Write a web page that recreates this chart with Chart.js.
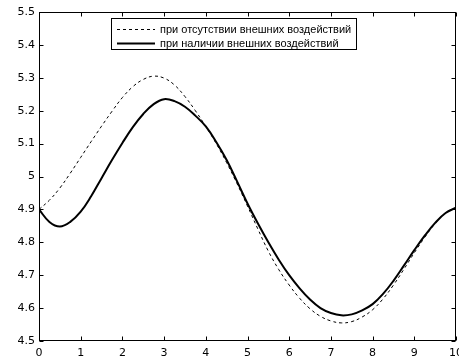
<!DOCTYPE html>
<html><head><meta charset="utf-8">
<script src="https://cdn.jsdelivr.net/npm/chart.js@4/dist/chart.umd.min.js"></script>
<style>html,body{margin:0;padding:0;background:#fff}</style>
</head><body>
<canvas id="c" width="459" height="362"></canvas>
<script>
const xValues = [0,0.25,0.5,0.75,1,1.25,1.5,1.75,2,2.25,2.5,2.75,3,3.25,3.5,3.75,4,4.25,4.5,4.75,5,5.25,5.5,5.75,6,6.25,6.5,6.75,7,7.25,7.5,7.75,8,8.25,8.5,8.75,9,9.25,9.5,9.75,10];
const seriesWithout = [4.900,4.928,4.965,5.010,5.058,5.106,5.153,5.198,5.240,5.273,5.295,5.305,5.299,5.278,5.243,5.200,5.152,5.100,5.042,4.978,4.910,4.840,4.773,4.717,4.670,4.630,4.598,4.575,4.561,4.555,4.559,4.573,4.595,4.628,4.670,4.718,4.768,4.815,4.857,4.890,4.905];
const seriesWith = [4.900,4.862,4.848,4.862,4.893,4.940,4.995,5.050,5.102,5.150,5.190,5.220,5.235,5.229,5.212,5.185,5.152,5.105,5.050,4.985,4.918,4.857,4.800,4.747,4.700,4.660,4.626,4.600,4.585,4.578,4.581,4.593,4.612,4.643,4.683,4.729,4.776,4.820,4.859,4.889,4.905];
const xTicks = [0,1,2,3,4,5,6,7,8,9,10];
const yTicks = [4.5,4.6,4.7,4.8,4.9,5,5.1,5.2,5.3,5.4,5.5];
const legendLabels = ['при отсутствии внешних воздействий','при наличии внешних воздействий'];

const tickFont = {family:'DejaVu Sans', size:11};

const boxPlugin = {
  id:'box',
  afterDraw(chart){
    const ctx = chart.ctx, a = chart.chartArea;
    const xs = chart.scales.x, ys = chart.scales.y;
    ctx.save();
    ctx.strokeStyle = '#000'; ctx.lineWidth = 1;
    const L = Math.round(a.left)+0.5, R = Math.round(a.right)-0.5, T = Math.round(a.top)+0.5, B = Math.round(a.bottom)-0.5;
    ctx.strokeRect(L, T, R-L, B-T);
    ctx.beginPath();
    xTicks.forEach(v=>{const p=Math.round(xs.getPixelForValue(v))+0.5; ctx.moveTo(p,B); ctx.lineTo(p,B-4); ctx.moveTo(p,T); ctx.lineTo(p,T+4);});
    yTicks.forEach(v=>{const p=Math.round(ys.getPixelForValue(v))+0.5; ctx.moveTo(L,p); ctx.lineTo(L+4,p); ctx.moveTo(R,p); ctx.lineTo(R-4,p);});
    ctx.stroke();
    // legend
    const lx=111.5, ly=18.5, lw=245, lh=31;
    ctx.fillStyle='#fff'; ctx.fillRect(lx,ly,lw,lh);
    ctx.strokeRect(lx,ly,lw,lh);
    const ds = chart.data.datasets;
    const rows=[29.5,43.5];
    ctx.font='11px "Liberation Sans"'; ctx.textBaseline='middle'; ctx.fillStyle='#000';
    ds.forEach((d,i)=>{
      ctx.beginPath();
      ctx.setLineDash(d.borderDash||[]);
      ctx.lineWidth=d.borderWidth;
      ctx.strokeStyle=d.borderColor;
      ctx.moveTo(117,rows[i]); ctx.lineTo(155,rows[i]); ctx.stroke();
      ctx.setLineDash([]);
      ctx.fillText(d.label,160,rows[i]);
    });
    ctx.restore();
  }
};

new Chart(document.getElementById('c'),{
  type:'line',
  data:{datasets:[
    {label:legendLabels[0], data:xValues.map((x,i)=>({x,y:seriesWithout[i]})), borderColor:'#000', borderWidth:1, borderDash:[3,3], pointRadius:0, tension:0.4, order:1},
    {label:legendLabels[1], data:xValues.map((x,i)=>({x,y:seriesWith[i]})), borderColor:'#000', borderWidth:2, pointRadius:0, tension:0.4, order:0}
  ]},
  options:{
    responsive:false, devicePixelRatio:1, animation:false,
    layout:{padding:{top:12,right:3,left:0,bottom:0}},
    plugins:{legend:{display:false},tooltip:{enabled:false}},
    scales:{
      x:{type:'linear',min:0,max:10,
        afterBuildTicks(s){s.ticks=xTicks.map(v=>({value:v}));},
        afterFit(s){s.height=21;s.paddingLeft=0;s.paddingRight=0;},
        grid:{drawOnChartArea:false,drawTicks:false}, border:{display:false},
        ticks:{color:'#000',font:tickFont,padding:6,maxRotation:0,autoSkip:false,callback:v=>String(v)}},
      y:{type:'linear',min:4.5,max:5.5,
        afterBuildTicks(s){s.ticks=yTicks.map(v=>({value:v}));},
        afterFit(s){s.width=39;s.paddingTop=0;s.paddingBottom=0;},
        grid:{drawOnChartArea:false,drawTicks:false}, border:{display:false},
        ticks:{color:'#000',font:tickFont,padding:4,autoSkip:false,callback:v=>String(+(+v).toFixed(1))}}
    }
  },
  plugins:[boxPlugin]
});
</script>
</body></html>
